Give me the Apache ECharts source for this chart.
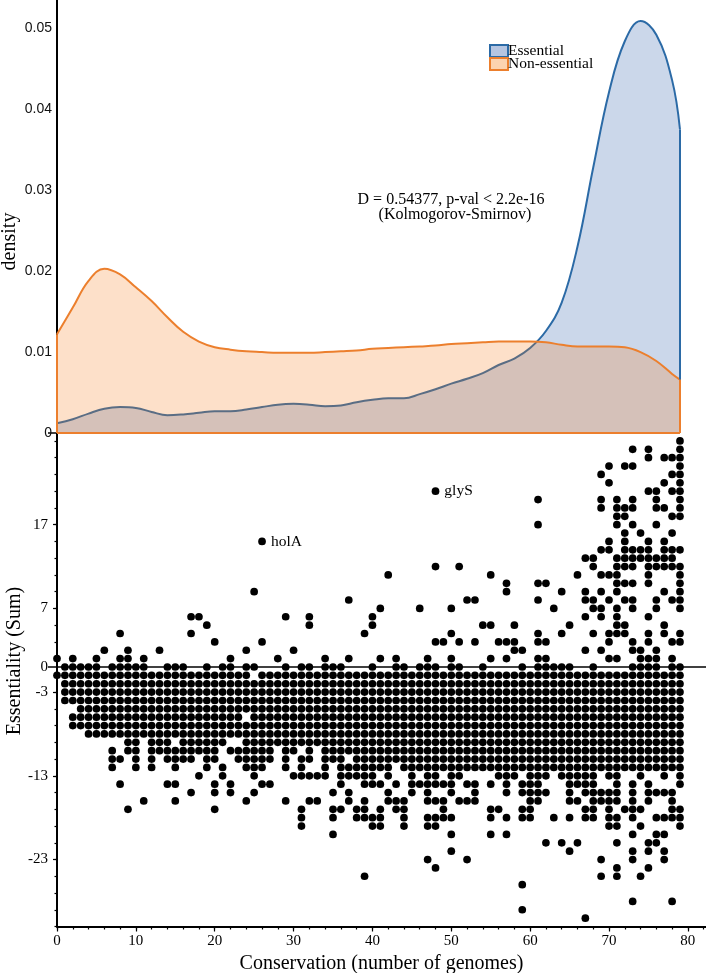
<!DOCTYPE html>
<html><head><meta charset="utf-8">
<script src="https://cdn.jsdelivr.net/npm/echarts@6/dist/echarts.min.js"></script>
<style>html,body{margin:0;padding:0;background:#fff}#c{width:706px;height:973px}</style>
</head><body><div id="c"></div>
<script>
// ---------- data ----------
const densityX = [0,2,4,6,8,10,12,14,16,18,20,22,24,26,28,30,32,34,36,38,40,42,44,46,48,50,52,54,56,58,60,62,64,66,68,70,72,74,76,78,79];
const essentialDensity = [0.0012,0.0017,0.0024,0.0030,0.0032,0.0031,0.0026,0.0022,0.0023,0.0025,0.0027,0.0027,0.0029,0.0032,0.0035,0.0036,0.0035,0.0033,0.0034,0.0038,0.0041,0.0043,0.0043,0.0048,0.0054,0.0061,0.0067,0.0074,0.0084,0.0092,0.0105,0.0126,0.0161,0.0230,0.0328,0.0421,0.0484,0.0509,0.0492,0.0436,0.0375];
const nonEssentialDensity = [0.0122,0.0155,0.0188,0.0203,0.0196,0.0180,0.0163,0.0143,0.0125,0.0113,0.0106,0.0103,0.0101,0.0100,0.0099,0.0099,0.0099,0.0100,0.0101,0.0102,0.0104,0.0105,0.0106,0.0107,0.0108,0.0110,0.0111,0.0112,0.0113,0.0113,0.0113,0.0112,0.0109,0.0107,0.0107,0.0107,0.0106,0.0100,0.0089,0.0073,0.0066];
const densityTicks = [0,0.01,0.02,0.03,0.04,0.05];
const conservationTicks = [0,10,20,30,40,50,60,70,80];
const conservationMinorTicks = [0,2,4,6,8,10,12,14,16,18,20,22,24,26,28,30,32,34,36,38,40,42,44,46,48,50,52,54,56,58,60,62,64,66,68,70,72,74,76,78,80,82];
const essentialityTicks = [-23,-13,-3,7,17];
const essentialityMinorTicks = [-31,-29,-27,-25,-23,-21,-19,-17,-15,-13,-11,-9,-7,-5,-3,-1,1,3,5,7,9,11,13,15,17,19,21,23,25,27];
const labelledGenes = [{name:'holA', conservation:26, essentiality:15},{name:'glyS', conservation:48, essentiality:21}];
// essentiality values of the genes, one list per conservation value (index = number of genomes)
const essentialityByConservation = [
/*0*/ [1,-1],
/*1*/ [0,-1,-2,-3,-4],
/*2*/ [1,0,-1,-2,-3,-4,-6,-7],
/*3*/ [0,-1,-2,-3,-4,-5,-6,-7],
/*4*/ [0,-1,-2,-3,-4,-5,-6,-7,-8],
/*5*/ [1,0,-1,-2,-3,-4,-5,-6,-7,-8],
/*6*/ [2,-1,-2,-3,-4,-5,-6,-7,-8],
/*7*/ [0,-1,-2,-3,-4,-5,-6,-7,-8,-10,-11,-12],
/*8*/ [4,1,0,-1,-2,-3,-4,-5,-6,-7,-8,-11,-14],
/*9*/ [2,1,0,-1,-2,-3,-4,-5,-6,-7,-8,-9,-10,-17],
/*10*/ [0,-1,-2,-3,-4,-5,-6,-7,-8,-9,-10,-11,-12],
/*11*/ [1,0,-1,-2,-3,-4,-5,-6,-7,-8,-16],
/*12*/ [-1,-2,-3,-4,-5,-6,-7,-8,-9,-10,-11,-12],
/*13*/ [2,-1,-2,-3,-4,-5,-6,-7,-8,-9,-10],
/*14*/ [0,-1,-2,-3,-4,-5,-6,-7,-8,-9,-10,-11,-14],
/*15*/ [0,-1,-2,-3,-4,-5,-6,-7,-8,-10,-11,-12,-14,-16],
/*16*/ [0,-1,-2,-3,-4,-5,-6,-7,-8,-9,-10,-11],
/*17*/ [6,4,-1,-2,-3,-4,-5,-6,-7,-8,-9,-10,-11,-15],
/*18*/ [6,-1,-2,-3,-4,-5,-6,-7,-8,-9,-10,-13],
/*19*/ [5,0,-1,-2,-3,-4,-5,-6,-7,-8,-9,-10,-11,-12],
/*20*/ [3,-1,-2,-3,-4,-5,-6,-7,-8,-9,-10,-11,-14,-15,-17],
/*21*/ [0,-1,-2,-3,-4,-5,-6,-7,-8,-9,-12,-13],
/*22*/ [1,0,-1,-2,-3,-4,-5,-6,-7,-8,-10,-14,-15],
/*23*/ [-1,-2,-3,-4,-5,-6,-7,-8,-10,-11],
/*24*/ [2,0,-1,-2,-3,-4,-5,-7,-8,-9,-10,-11,-12,-16],
/*25*/ [9,0,-2,-3,-4,-5,-6,-7,-8,-9,-10,-11,-12,-13,-15],
/*26*/ [15,3,-1,-2,-3,-4,-5,-6,-7,-8,-9,-10,-11,-12,-14],
/*27*/ [-1,-2,-3,-4,-5,-6,-7,-8,-9,-10,-11,-14],
/*28*/ [1,-1,-2,-3,-4,-5,-6,-7,-8,-9],
/*29*/ [6,0,-1,-2,-3,-4,-5,-6,-7,-8,-9,-10,-11,-12,-16],
/*30*/ [2,-1,-2,-3,-4,-5,-6,-7,-8,-9,-10,-13],
/*31*/ [0,-1,-2,-3,-4,-5,-6,-7,-8,-9,-11,-12,-13,-17,-18,-19],
/*32*/ [6,5,0,-1,-2,-3,-4,-5,-6,-7,-8,-9,-10,-11,-13,-16],
/*33*/ [-1,-2,-3,-4,-5,-6,-7,-8,-9,-13,-16],
/*34*/ [1,0,-1,-2,-3,-4,-5,-6,-7,-8,-9,-10,-11,-12,-13],
/*35*/ [0,-1,-2,-3,-4,-5,-6,-7,-8,-9,-10,-11,-15,-17,-18,-20],
/*36*/ [0,-1,-2,-3,-4,-5,-6,-7,-8,-9,-10,-11,-12,-13,-14,-17],
/*37*/ [8,1,-1,-2,-3,-4,-5,-6,-7,-8,-9,-10,-12,-13,-15,-16],
/*38*/ [-1,-2,-3,-4,-5,-6,-7,-8,-9,-10,-11,-12,-13,-17,-18],
/*39*/ [4,-1,-2,-3,-4,-5,-6,-7,-8,-9,-10,-11,-12,-13,-14,-16,-17,-18,-25],
/*40*/ [6,5,0,-1,-2,-3,-4,-5,-6,-7,-8,-9,-10,-11,-12,-13,-14,-18,-19],
/*41*/ [7,1,-1,-2,-3,-4,-5,-6,-7,-8,-9,-10,-11,-12,-14,-17,-18,-19],
/*42*/ [11,-1,-2,-3,-4,-5,-6,-7,-8,-9,-10,-11,-12,-13,-15,-16],
/*43*/ [1,0,-1,-2,-3,-4,-5,-6,-7,-8,-9,-10,-11,-14,-16,-17],
/*44*/ [0,-1,-2,-3,-4,-5,-6,-7,-8,-9,-10,-11,-12,-16,-17,-18,-19],
/*45*/ [-1,-2,-3,-4,-5,-6,-7,-8,-9,-10,-11,-12,-13,-14,-15],
/*46*/ [7,0,-1,-2,-3,-4,-5,-6,-7,-8,-9,-10,-11,-12,-14],
/*47*/ [1,0,-1,-2,-3,-4,-5,-6,-7,-8,-9,-10,-11,-12,-13,-14,-15,-16,-18,-19,-23],
/*48*/ [21,12,3,0,-1,-2,-3,-4,-5,-6,-7,-8,-9,-10,-11,-12,-13,-14,-16,-18,-19,-24],
/*49*/ [3,-1,-2,-3,-4,-5,-6,-7,-8,-9,-10,-11,-12,-14,-16,-17,-18],
/*50*/ [7,4,1,0,-1,-2,-3,-4,-5,-6,-7,-8,-9,-10,-11,-12,-13,-14,-15,-18,-20,-22],
/*51*/ [12,3,0,-1,-2,-3,-4,-5,-6,-7,-8,-9,-10,-11,-12,-13,-16],
/*52*/ [8,-1,-2,-3,-4,-5,-6,-7,-8,-9,-10,-11,-12,-14,-16,-23],
/*53*/ [8,3,-1,-2,-3,-4,-5,-6,-7,-8,-9,-10,-11,-12,-14,-15,-16],
/*54*/ [5,0,-1,-2,-3,-4,-5,-6,-7,-8,-9,-10,-11,-12],
/*55*/ [11,5,1,-1,-2,-3,-4,-5,-6,-7,-8,-9,-10,-11,-12,-14,-17,-18,-20],
/*56*/ [3,-1,-2,-3,-4,-5,-6,-7,-8,-9,-10,-11,-12,-13,-17],
/*57*/ [10,9,3,1,-1,-2,-3,-4,-5,-6,-7,-8,-9,-10,-11,-12,-13,-14,-15,-18,-20],
/*58*/ [5,3,2,-1,-2,-3,-4,-5,-6,-7,-8,-9,-10,-11,-12,-13],
/*59*/ [2,0,-1,-2,-3,-4,-5,-6,-7,-8,-9,-10,-11,-12,-14,-15,-17,-18,-26,-29],
/*60*/ [-1,-2,-3,-4,-5,-6,-7,-8,-9,-10,-11,-12,-13,-14,-15,-16,-17,-18],
/*61*/ [20,17,10,8,4,3,1,0,-1,-2,-3,-4,-5,-6,-7,-8,-9,-10,-11,-12,-13,-14,-15,-16],
/*62*/ [10,3,1,0,-1,-2,-3,-4,-5,-6,-7,-8,-9,-10,-11,-12,-13,-15,-21],
/*63*/ [7,0,-1,-2,-3,-4,-5,-6,-7,-8,-9,-10,-11,-12,-18],
/*64*/ [9,4,0,-1,-2,-3,-4,-5,-6,-7,-8,-9,-10,-11,-12,-13,-21],
/*65*/ [5,0,-1,-2,-3,-4,-5,-6,-7,-8,-9,-10,-11,-12,-13,-14,-15,-16,-18,-22],
/*66*/ [11,-1,-2,-3,-4,-5,-6,-7,-8,-9,-10,-11,-12,-13,-14,-16,-21],
/*67*/ [13,9,8,6,2,-1,-2,-3,-4,-5,-6,-7,-8,-9,-10,-11,-12,-13,-14,-15,-17,-18,-30],
/*68*/ [13,12,8,7,4,0,-1,-2,-3,-4,-5,-6,-7,-8,-9,-10,-11,-12,-13,-14,-15,-16,-17,-18],
/*69*/ [23,20,19,14,11,9,7,6,2,-1,-2,-3,-4,-5,-6,-7,-8,-9,-10,-11,-12,-15,-16,-23,-25],
/*70*/ [24,22,15,14,11,8,4,3,1,-1,-2,-3,-4,-5,-6,-7,-8,-9,-10,-11,-12,-13,-15,-16,-17,-18,-19],
/*71*/ [20,19,18,17,13,12,11,10,9,7,6,5,4,1,-1,-2,-3,-4,-5,-6,-7,-8,-9,-10,-11,-12,-13,-14,-15,-16,-18,-19,-21,-24,-25],
/*72*/ [24,19,18,16,15,14,13,12,10,8,5,4,-1,-2,-3,-4,-5,-6,-7,-8,-9,-10,-11,-12,-17],
/*73*/ [26,24,20,19,17,14,13,12,10,8,7,3,2,0,-1,-2,-3,-4,-5,-6,-7,-8,-9,-10,-11,-12,-14,-15,-16,-17,-18,-20,-22,-23,-28],
/*74*/ [16,14,13,2,1,0,-1,-2,-3,-4,-5,-6,-7,-8,-9,-10,-11,-12,-13,-17,-19,-25],
/*75*/ [26,25,21,15,14,13,12,11,10,6,4,3,1,0,-1,-2,-3,-4,-5,-6,-7,-8,-9,-10,-11,-12,-14,-15,-16,-21,-22,-24],
/*76*/ [21,20,19,17,13,12,8,7,2,1,0,-1,-2,-3,-4,-5,-6,-7,-8,-9,-10,-11,-12,-15,-18,-20,-21],
/*77*/ [25,22,19,15,14,13,12,9,5,4,-1,-2,-3,-4,-5,-6,-7,-8,-9,-10,-11,-12,-13,-15,-18,-20,-22,-23],
/*78*/ [25,23,21,18,16,14,13,12,8,3,1,0,-1,-2,-3,-4,-5,-6,-7,-8,-9,-10,-11,-12,-15,-16,-17,-18,-28],
/*79*/ [27,26,25,24,23,22,21,20,19,18,14,12,11,10,9,8,7,4,3,0,-1,-2,-3,-4,-5,-6,-7,-8,-9,-10,-11,-12,-13,-14,-17,-18,-19]
];

// ---------- chart ----------
const SERIF = '"Liberation Serif","Times New Roman",serif';
const SANS = '"Liberation Sans",Arial,sans-serif';
const X_MAX = 82.3;
const last = densityX.length - 1;

const scatterData = [];
essentialityByConservation.forEach((col, c) => col.forEach(v => {
  const g = labelledGenes.find(g => g.conservation === c && g.essentiality === v);
  if (g) scatterData.push({value:[c, v], name:g.name,
    label:{show:true, position:'right', distance:5, formatter:g.name, fontFamily:SERIF, fontSize:15.5, color:'#000'}});
  else scatterData.push([c, v]);
}));

const chart = echarts.init(document.getElementById('c'));
chart.setOption({
  animation:false,
  backgroundColor:'#fff',
  grid:[
    {left:57, top:0, width:649, height:433, outerBoundsMode:'none', containLabel:false},
    {left:57, top:432.6, width:649, height:493.9, outerBoundsMode:'none', containLabel:false}
  ],
  xAxis:[
    {gridIndex:0, type:'value', min:0, max:X_MAX, axisLine:{show:false}, axisTick:{show:false}, axisLabel:{show:false}, splitLine:{show:false}},
    {gridIndex:1, type:'value', min:0, max:X_MAX,
      axisLine:{show:true, onZero:false, lineStyle:{color:'#000', width:2}},
      axisTick:{show:true, length:5, customValues:conservationTicks, lineStyle:{color:'#000', width:1.2}},
      axisLabel:{show:true, customValues:conservationTicks, margin:7, fontFamily:SERIF, fontSize:15, color:'#000'},
      splitLine:{show:false},
      name:'Conservation (number of genomes)', nameLocation:'middle', nameGap:26,
      nameTextStyle:{fontFamily:SERIF, fontSize:20, color:'#000'}},
    {gridIndex:1, type:'value', min:0, max:X_MAX, position:'bottom',
      axisLine:{show:false, onZero:false}, axisLabel:{show:false}, splitLine:{show:false},
      axisTick:{show:true, length:3, customValues:conservationMinorTicks, lineStyle:{color:'#000', width:1.2}}}
  ],
  yAxis:[
    {gridIndex:0, type:'value', min:0, max:0.0535,
      axisLine:{show:true, onZero:false, lineStyle:{color:'#000', width:2}},
      axisTick:{show:true, length:9, customValues:[0], lineStyle:{color:'#000', width:1.5}},
      axisLabel:{show:true, customValues:densityTicks, margin:5, fontFamily:SANS, fontSize:14, color:'#111'},
      splitLine:{show:false}},
    {gridIndex:1, type:'value', min:-31, max:28,
      axisLine:{show:true, onZero:false, lineStyle:{color:'#000', width:2}},
      axisTick:{show:true, length:4, customValues:essentialityTicks, lineStyle:{color:'#000', width:1.2}},
      axisLabel:{show:true, customValues:essentialityTicks.concat([0]), margin:9, fontFamily:SERIF, fontSize:15, color:'#000'},
      splitLine:{show:false}},
    {gridIndex:1, type:'value', min:-31, max:28, position:'left',
      axisLine:{show:false, onZero:false}, axisLabel:{show:false}, splitLine:{show:false},
      axisTick:{show:true, length:2.5, customValues:essentialityMinorTicks, lineStyle:{color:'#000', width:1.2}}},
    {gridIndex:1, type:'value', min:-31, max:28, position:'left',
      axisLine:{show:false, onZero:false}, axisLabel:{show:false}, splitLine:{show:false},
      axisTick:{show:true, length:9, customValues:[0], lineStyle:{color:'#000', width:1.5}}}
  ],
  legend:{
    show:true, orient:'vertical', left:489, top:43, padding:0, itemWidth:18, itemHeight:12, itemGap:-3,
    selectedMode:false,
    textStyle:{fontFamily:SERIF, fontSize:15.5, color:'#000', padding:[0,0,0,-5]},
    data:[
      {name:'Essential', icon:'rect', itemStyle:{color:'#b5c5e1', borderColor:'#2b6aa6', borderWidth:2}},
      {name:'Non-essential', icon:'rect', itemStyle:{color:'#fcd3b0', borderColor:'#ec7f2d', borderWidth:2}}
    ]
  },
  graphic:[
    {type:'text', x:10, y:241.5, rotation:Math.PI/2, style:{text:'density', fontFamily:SERIF, fontSize:20, fill:'#000', align:'center', verticalAlign:'middle'}},
    {type:'text', x:15, y:661, rotation:Math.PI/2, style:{text:'Essentiality (Sum)', fontFamily:SERIF, fontSize:20, fill:'#000', align:'center', verticalAlign:'middle'}},
    {type:'text', x:451, y:200, style:{text:'D = 0.54377, p-val < 2.2e-16', fontFamily:SERIF, fontSize:16, fill:'#000', align:'center', verticalAlign:'middle'}},
    {type:'text', x:455, y:215, style:{text:'(Kolmogorov-Smirnov)', fontFamily:SERIF, fontSize:16, fill:'#000', align:'center', verticalAlign:'middle'}}
  ],
  series:[
    {name:'Essential', type:'line', xAxisIndex:0, yAxisIndex:0, z:2,
      data:densityX.map((x,i)=>[x, essentialDensity[i]]), smooth:0.4, showSymbol:false, symbol:'none',
      lineStyle:{color:'#2b6aa6', width:2}, itemStyle:{color:'#b5c5e1'},
      areaStyle:{color:'rgba(120,150,200,0.55)', origin:'start'},
      markLine:{silent:true, symbol:'none', label:{show:false}, lineStyle:{color:'#2b6aa6', width:2, type:'solid'},
        data:[[{coord:[densityX[last],0]},{coord:[densityX[last],essentialDensity[last]]}]]}},
    {name:'Non-essential', type:'line', xAxisIndex:0, yAxisIndex:0, z:3,
      data:densityX.map((x,i)=>[x, nonEssentialDensity[i]]), smooth:0.4, showSymbol:false, symbol:'none',
      lineStyle:{color:'#ec7f2d', width:2}, itemStyle:{color:'#fcd3b0'},
      areaStyle:{color:'rgba(246,120,20,0.33)', origin:'start'},
      markLine:{silent:true, symbol:'none', label:{show:false}, lineStyle:{color:'#ec7f2d', width:2, type:'solid'},
        data:[
          [{coord:[densityX[0],0]},{coord:[densityX[0],nonEssentialDensity[0]]}],
          [{coord:[densityX[last],0]},{coord:[densityX[last],nonEssentialDensity[last]]}],
          [{coord:[densityX[0],0]},{coord:[densityX[last],0]}]
        ]}},
    {name:'Genes', type:'scatter', xAxisIndex:1, yAxisIndex:1, z:4,
      data:scatterData, symbol:'circle', symbolSize:7.7, itemStyle:{color:'#000', opacity:1},
      markLine:{silent:true, symbol:'none', label:{show:false}, lineStyle:{color:'#000', width:1.5, type:'solid'},
        data:[{yAxis:0}]}}
  ]
});
</script>
</body></html>
